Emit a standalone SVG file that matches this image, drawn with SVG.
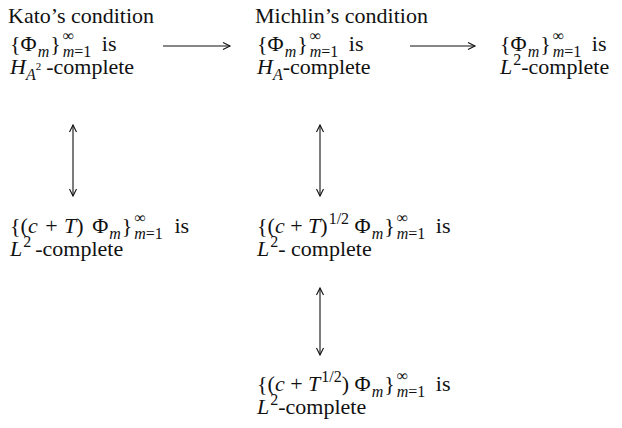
<svg xmlns="http://www.w3.org/2000/svg" width="622" height="428" viewBox="0 0 622 428">
<style>
text { font-family: "Liberation Serif", "Times New Roman", serif; font-size: 22px; fill: #111; }
.i { font-style: italic; }
.s { font-size: 16px; }
.c { stroke: #111; stroke-width: 1.1; fill: none; }
</style>
<defs>
<marker id="ah" markerWidth="10" markerHeight="10" refX="8" refY="4" orient="auto-start-reverse" markerUnits="userSpaceOnUse">
<path d="M1,0.5 L8,4 L1,7.5" fill="none" stroke="#111" stroke-width="1.1"/>
</marker>
</defs>
<text x="8" y="23">Kato’s condition</text>
<text x="255" y="23">Michlin’s condition</text>
<g id="nodeA">
<text x="10" y="51">{Φ<tspan class="i s" dy="6" dx="1">m</tspan><tspan dy="-6" dx="1">}</tspan><tspan class="s" dy="-10" dx="2">∞</tspan><tspan class="i s" dx="-11.5" dy="16">m</tspan><tspan class="s">=1</tspan><tspan dy="-6" dx="5"> is</tspan></text>
<text x="10" y="74"><tspan class="i">H</tspan><tspan class="i s" dy="6">A</tspan><tspan dy="-10" style="font-size:11px">2</tspan><tspan dy="4" dx="5">-complete</tspan></text>
</g>
<g id="nodeB">
<text x="257" y="51">{Φ<tspan class="i s" dy="6" dx="1">m</tspan><tspan dy="-6" dx="1">}</tspan><tspan class="s" dy="-10" dx="2">∞</tspan><tspan class="i s" dx="-11.5" dy="16">m</tspan><tspan class="s">=1</tspan><tspan dy="-6" dx="5"> is</tspan></text>
<text x="257" y="74"><tspan class="i">H</tspan><tspan class="i s" dy="6">A</tspan><tspan dy="-6">-complete</tspan></text>
</g>
<g id="nodeC">
<text x="500" y="51">{Φ<tspan class="i s" dy="6" dx="1">m</tspan><tspan dy="-6" dx="1">}</tspan><tspan class="s" dy="-10" dx="2">∞</tspan><tspan class="i s" dx="-11.5" dy="16">m</tspan><tspan class="s">=1</tspan><tspan dy="-6" dx="5"> is</tspan></text>
<text x="500" y="74"><tspan class="i">L</tspan><tspan class="s" dy="-9" dx="1">2</tspan><tspan dy="9">-complete</tspan></text>
</g>
<g id="nodeD">
<text x="10" y="233">{(<tspan class="i">c</tspan><tspan dx="2"> + </tspan><tspan class="i" dx="1">T</tspan>)<tspan dx="3"> Φ</tspan><tspan class="i s" dy="6" dx="1">m</tspan><tspan dy="-6" dx="1">}</tspan><tspan class="s" dy="-10" dx="2">∞</tspan><tspan class="i s" dx="-11.5" dy="16">m</tspan><tspan class="s">=1</tspan><tspan dy="-6" dx="6"> is</tspan></text>
<text x="10" y="256"><tspan class="i">L</tspan><tspan class="s" dy="-9" dx="1">2</tspan><tspan dy="9" dx="4">-complete</tspan></text>
</g>
<g id="nodeE">
<text x="257" y="233">{(<tspan class="i">c</tspan> + <tspan class="i">T</tspan>)<tspan class="s" dy="-9" dx="1">1/2</tspan><tspan dy="9"> Φ</tspan><tspan class="i s" dy="6" dx="1">m</tspan><tspan dy="-6" dx="1">}</tspan><tspan class="s" dy="-10" dx="2">∞</tspan><tspan class="i s" dx="-11.5" dy="16">m</tspan><tspan class="s">=1</tspan><tspan dy="-6" dx="5"> is</tspan></text>
<text x="257" y="256"><tspan class="i">L</tspan><tspan class="s" dy="-9" dx="1">2</tspan><tspan dy="9">- complete</tspan></text>
</g>
<g id="nodeF">
<text x="257" y="391">{(<tspan class="i">c</tspan> + <tspan class="i">T</tspan><tspan class="s" dy="-9" dx="1">1/2</tspan><tspan dy="9">) Φ</tspan><tspan class="i s" dy="6" dx="1">m</tspan><tspan dy="-6" dx="1">}</tspan><tspan class="s" dy="-10" dx="2">∞</tspan><tspan class="i s" dx="-11.5" dy="16">m</tspan><tspan class="s">=1</tspan><tspan dy="-6" dx="5"> is</tspan></text>
<text x="257" y="414"><tspan class="i">L</tspan><tspan class="s" dy="-9" dx="1">2</tspan><tspan dy="9">-complete</tspan></text>
</g>
<g id="connectors">
<line class="c" x1="163" y1="46" x2="230" y2="46" marker-end="url(#ah)"/>
<line class="c" x1="410" y1="46" x2="475" y2="46" marker-end="url(#ah)"/>
<line class="c" x1="73" y1="125" x2="73" y2="196" marker-start="url(#ah)" marker-end="url(#ah)"/>
<line class="c" x1="320" y1="125" x2="320" y2="196" marker-start="url(#ah)" marker-end="url(#ah)"/>
<line class="c" x1="320" y1="288" x2="320" y2="355" marker-start="url(#ah)" marker-end="url(#ah)"/>
</g>
</svg>
